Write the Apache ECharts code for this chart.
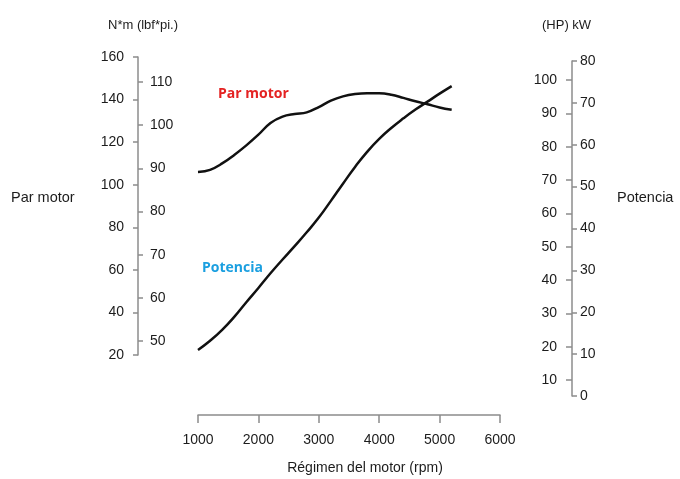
<!DOCTYPE html>
<html>
<head>
<meta charset="utf-8">
<script src="https://cdn.jsdelivr.net/npm/echarts@6/dist/echarts.min.js"></script>
<style>
  html, body { margin: 0; padding: 0; background: #fff; }
  #chart { width: 680px; height: 479px; }
</style>
</head>
<body>
<div id="chart"></div>
<script>
// engine speed (rpm)
const rpm = [1000, 1200, 1400, 1600, 1800, 2000, 2200, 2400, 2600, 2800, 3000,
             3200, 3400, 3600, 3800, 4000, 4200, 4400, 4600, 4800, 5000, 5200];
// torque, N*m
const torqueNm = [106, 107, 110, 114, 118.5, 123.5, 129, 132, 133.2, 134, 136.5,
                  139.5, 141.5, 142.6, 143, 143, 142.3, 140.8, 139.2, 137.8, 136.3, 135.2];
// power, kW
const powerKw = [11.0, 13.2, 15.8, 18.9, 22.4, 25.8, 29.3, 32.6, 35.8, 39.1, 42.6,
                 46.6, 50.7, 54.7, 58.3, 61.4, 64.0, 66.3, 68.4, 70.3, 72.2, 74.0];

const lbfTicks = [50, 60, 70, 80, 90, 100, 110];
const hpTicks = [10, 20, 30, 40, 50, 60, 70, 80, 90, 100];

const labelFont = { fontFamily: 'Liberation Sans', fontSize: 14, color: '#1c1c1c' };
const axisGrey = '#8c8c8c';

const chart = echarts.init(document.getElementById('chart'));
chart.setOption({
    animation: false,
    grid: [
        { left: 198, right: 180, top: 57, bottom: 124 },   // torque
        { left: 198, right: 180, top: 61, bottom: 83 },    // power
        { left: 198, right: 180, top: 405, bottom: 64 }    // rpm axis
    ],
    xAxis: [
        { gridIndex: 0, type: 'value', min: 1000, max: 6000, show: false },
        { gridIndex: 1, type: 'value', min: 1000, max: 6000, show: false },
        {
            gridIndex: 2, type: 'value', min: 1000, max: 6000, interval: 1000,
            axisLine: { lineStyle: { color: axisGrey, width: 1.5 } },
            axisTick: { length: 8, lineStyle: { color: axisGrey, width: 1.5 } },
            axisLabel: Object.assign({ margin: 18, formatter: v => String(v) }, labelFont),
            splitLine: { show: false },
            name: 'Régimen del motor (rpm)',
            nameLocation: 'middle',
            nameGap: 46,
            nameTextStyle: { fontFamily: 'Liberation Sans', fontSize: 14, color: '#1c1c1c', padding: [0, 0, 0, 32] }
        }
    ],
    yAxis: [
        {
            gridIndex: 0, type: 'value', position: 'left', offset: 60,
            min: 20, max: 160, interval: 20,
            axisLine: { show: true, lineStyle: { color: axisGrey, width: 1.5 } },
            axisTick: { show: true, length: 5, lineStyle: { color: axisGrey, width: 1.5 } },
            axisLabel: Object.assign({ margin: 14 }, labelFont),
            splitLine: { show: false }
        },
        {
            gridIndex: 0, type: 'value', position: 'left', offset: 60,
            min: 46.76, max: 115.8,
            axisLine: { show: false },
            axisTick: { show: true, inside: true, length: 5, customValues: lbfTicks,
                        lineStyle: { color: axisGrey, width: 1.5 } },
            axisLabel: Object.assign({ inside: true, margin: 12, customValues: lbfTicks }, labelFont),
            splitLine: { show: false }
        },
        {
            gridIndex: 1, type: 'value', position: 'right', offset: 72,
            min: 5.2, max: 105.7,
            axisLine: { show: false },
            axisTick: { show: true, inside: true, length: 6, customValues: hpTicks,
                        lineStyle: { color: axisGrey, width: 1.5 } },
            axisLabel: Object.assign({ inside: true, margin: 15, customValues: hpTicks }, labelFont),
            splitLine: { show: false }
        },
        {
            gridIndex: 1, type: 'value', position: 'right', offset: 72,
            min: 0, max: 80, interval: 10,
            axisLine: { show: true, lineStyle: { color: axisGrey, width: 1.5 } },
            axisTick: { show: true, length: 5, lineStyle: { color: axisGrey, width: 1.5 } },
            axisLabel: Object.assign({ margin: 8 }, labelFont),
            splitLine: { show: false }
        },
        { gridIndex: 2, type: 'value', show: false }
    ],
    series: [
        {
            name: 'Par motor', type: 'line', xAxisIndex: 0, yAxisIndex: 0,
            data: rpm.map((r, i) => [r, torqueNm[i]]),
            smooth: 0.4, showSymbol: false,
            lineStyle: { color: '#111', width: 2.5 }
        },
        {
            name: 'Potencia', type: 'line', xAxisIndex: 1, yAxisIndex: 3,
            data: rpm.map((r, i) => [r, powerKw[i]]),
            smooth: 0.5, showSymbol: false,
            lineStyle: { color: '#111', width: 2.5 }
        }
    ],
    graphic: [
        { type: 'text', left: 108, top: 19,
          style: { text: 'N*m (lbf*pi.)', font: '13px "Liberation Sans"', fill: '#1c1c1c' } },
        { type: 'text', left: 542, top: 19,
          style: { text: '(HP) kW', font: '13px "Liberation Sans"', fill: '#1c1c1c' } },
        { type: 'text', left: 11, top: 190,
          style: { text: 'Par motor', font: '14.5px "Liberation Sans"', fill: '#1c1c1c' } },
        { type: 'text', left: 617, top: 190,
          style: { text: 'Potencia', font: '14.5px "Liberation Sans"', fill: '#1c1c1c' } },
        { type: 'text', left: 218, top: 87,
          style: { text: 'Par motor', font: 'bold 14px "Open Sans"', fill: '#e42222' } },
        { type: 'text', left: 202, top: 261,
          style: { text: 'Potencia', font: 'bold 14px "Open Sans"', fill: '#1a9fe0' } }
    ]
});
</script>
</body>
</html>
